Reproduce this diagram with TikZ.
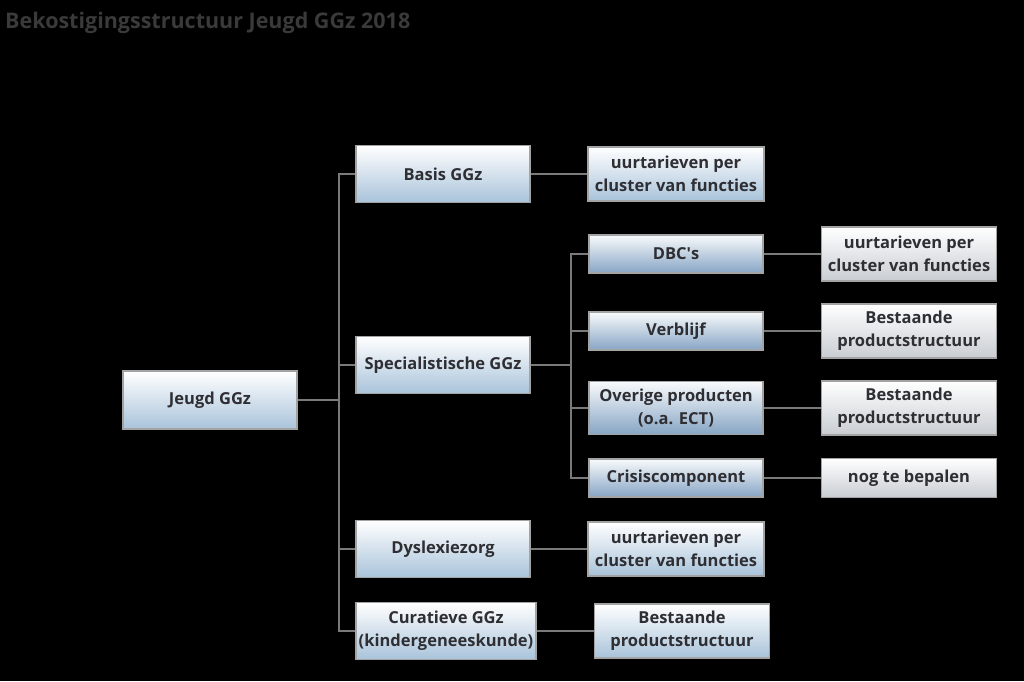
\documentclass[tikz,border=0pt]{standalone}
\usepackage{fontspec}
\setmainfont{Open Sans}
\definecolor{bordc}{HTML}{A3A3A3}
\definecolor{linec}{HTML}{7A7A7A}
\definecolor{txtc}{HTML}{2E2E33}
\definecolor{titlec}{HTML}{3A3A3A}
\definecolor{lblue}{HTML}{A9C3DA}
\definecolor{sblue}{HTML}{87A5C4}
\definecolor{lgray}{HTML}{C9CDD2}
\tikzset{
  base/.style={draw=bordc, line width=1.6pt, text=txtc, align=center, inner sep=0pt,
    font=\fontsize{16.5}{23}\selectfont\bfseries},
  mainbox/.style={base, top color=white, bottom color=lblue, minimum width=174, minimum height=57},
  subbox/.style={base, top color=white!92!lblue, bottom color=sblue, minimum width=174, minimum height=38},
  leafbox/.style={base, top color=white, bottom color=lgray, minimum width=175, minimum height=54},
  conn/.style={draw=linec, line width=1.6pt},
}
\begin{document}
\begin{tikzpicture}[x=1pt,y=-1pt]
\fill[black] (0,0) rectangle (1024,681);
\useasboundingbox (0,0) rectangle (1024,681);
\node[anchor=base west, text=titlec, font=\fontsize{21.5}{24}\selectfont\bfseries, inner sep=0] (title) at (5,28) {Bekostigingsstructuur Jeugd GGz 2018};

\node[mainbox, minimum height=58] (jeugd) at (210,400) {Jeugd GGz};
\node[mainbox] (basis) at (443,174) {Basis GGz};
\node[mainbox] (spec) at (443,365) {Specialistische GGz};
\node[mainbox] (dys) at (443,549) {Dyslexiezorg};
\node[mainbox, minimum width=180] (cur) at (446,631) {Curatieve GGz\\(kindergeneeskunde)};

\node[mainbox, minimum width=176, minimum height=54] (basisr) at (676,174) {uurtarieven per\\cluster van functies};
\node[mainbox, minimum width=176, minimum height=54] (dysr) at (676,549) {uurtarieven per\\cluster van functies};
\node[mainbox, minimum width=175, minimum height=54] (curr) at (682,631) {Bestaande\\productstructuur};

\node[subbox] (dbc) at (676,254) {DBC\textquotesingle s};
\node[subbox] (verb) at (676,331) {Verblijf};
\node[subbox, minimum height=53] (over) at (676,408) {Overige producten\\(o.a. ECT)};
\node[subbox] (cris) at (676,478) {Crisiscomponent};

\node[leafbox] (dbcr) at (909,254) {uurtarieven per\\cluster van functies};
\node[leafbox] (verbr) at (909,331) {Bestaande\\productstructuur};
\node[leafbox] (overr) at (909,408) {Bestaande\\productstructuur};
\node[leafbox, minimum height=39] (crisr) at (909,478) {nog te bepalen};

\coordinate (bus1) at (339,400);
\coordinate (bus2) at (571,365);
\draw[conn] (jeugd.east) -- (bus1);
\draw[conn] (basis.west) -| (bus1);
\draw[conn] (cur.west) -| (bus1);
\draw[conn] (spec.west) -| (bus1);
\draw[conn] (dys.west) -| (bus1);

\draw[conn] (spec.east) -- (bus2);
\draw[conn] (dbc.west) -| (bus2);
\draw[conn] (cris.west) -| (bus2);
\draw[conn] (verb.west) -| (bus2);
\draw[conn] (over.west) -| (bus2);

\draw[conn] (basis.east) -- (basisr.west);
\draw[conn] (dys.east) -- (dysr.west);
\draw[conn] (cur.east) -- (curr.west);
\draw[conn] (dbc.east) -- (dbcr.west);
\draw[conn] (verb.east) -- (verbr.west);
\draw[conn] (over.east) -- (overr.west);
\draw[conn] (cris.east) -- (crisr.west);
\end{tikzpicture}
\end{document}
